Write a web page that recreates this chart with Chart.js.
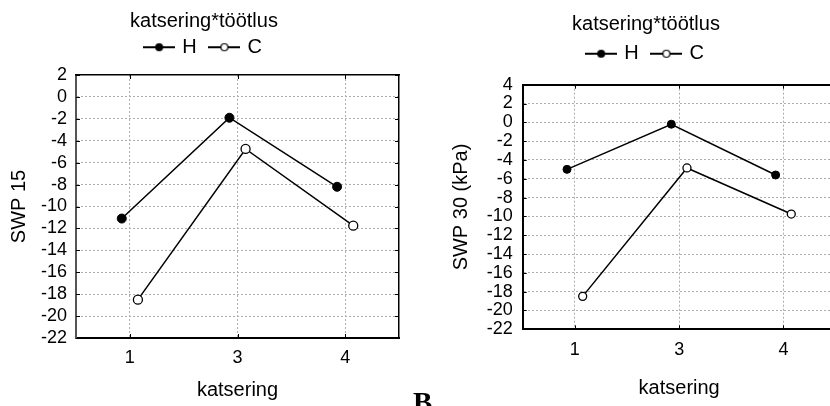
<!DOCTYPE html>
<html>
<head>
<meta charset="utf-8">
<script src="https://cdn.jsdelivr.net/npm/chart.js@4.4.0/dist/chart.umd.min.js"></script>
<style>
  html, body { margin: 0; padding: 0; background: #fff; overflow: hidden; }
  #stage { position: relative; width: 830px; height: 406px; overflow: hidden; background: #fff; }
  #c1 { position: absolute; left: 0; top: 0; }
  #c2 { position: absolute; left: 415px; top: 0; }
  #tag { position: absolute; left: 413px; top: 388px; font: bold 29px/29px "Liberation Serif", "Times New Roman", serif; color: #000; }
</style>
</head>
<body>
<div id="stage">
  <canvas id="c1" width="408" height="406"></canvas>
  <canvas id="c2" width="462" height="406"></canvas>
  <div id="tag">B</div>
</div>
<script>
// katsering x töötlus interaction plots (SWP 15 / SWP 30)

const categories = ['1', '3', '4'];
const seriesNames = ['H', 'C'];
const swp15H = [-11.1, -1.9, -8.2];
const swp15C = [-18.5, -4.75, -11.75];
const swp30H = [-5.0, -0.2, -5.6];
const swp30C = [-18.5, -4.85, -9.75];
const yTicks15 = [-22, -20, -18, -16, -14, -12, -10, -8, -6, -4, -2, 0, 2];
const yTicks30 = [-22, -20, -18, -16, -14, -12, -10, -8, -6, -4, -2, 0, 2, 4];

const FONT = '"Liberation Sans", Arial, sans-serif';
const DODGE = 0.075;
const GRID = '#aeaeae';

// small line+circle icon for the legend
function legendIcon(filled) {
    const c = document.createElement('canvas');
    c.width = 32; c.height = 12;
    const g = c.getContext('2d');
    g.fillStyle = '#000';
    g.fillRect(0, 5, 32, 2);
    g.beginPath();
    if (filled) {
        g.arc(16, 6, 4, 0, Math.PI * 2);
        g.fill();
    } else {
        g.arc(16, 6, 3.5, 0, Math.PI * 2);
        g.fillStyle = '#fff';
        g.fill();
        g.lineWidth = 1.2;
        g.strokeStyle = '#000';
        g.stroke();
    }
    return c;
}

// short tick marks pointing into the plot box
const innerTicks = {
    id: 'innerTicks',
    afterDraw(chart) {
        const { ctx, chartArea: a, scales: { x, y } } = chart;
        ctx.save();
        ctx.strokeStyle = '#000';
        ctx.lineWidth = 1;
        ctx.beginPath();
        y.ticks.forEach(t => {
            const py = Math.round(y.getPixelForValue(t.value)) + 0.5;
            ctx.moveTo(a.left, py); ctx.lineTo(a.left + 4, py);
            ctx.moveTo(a.right, py); ctx.lineTo(a.right - 4, py);
        });
        x.ticks.forEach(t => {
            const px = Math.round(x.getPixelForValue(t.value)) + 0.5;
            ctx.moveTo(px, a.top); ctx.lineTo(px, a.top + 4);
            ctx.moveTo(px, a.bottom); ctx.lineTo(px, a.bottom - 4);
        });
        ctx.stroke();
        ctx.restore();
    }
};

function makeChart(id, valsH, valsC, yTicks, yTitle, lay) {
    const icons = [legendIcon(true), legendIcon(false)];
    const pts = (vals, off) => vals.map((v, i) => ({ x: i + 1 + off, y: v }));

    return new Chart(document.getElementById(id), {
        type: 'line',
        data: {
            datasets: [
                {
                    label: seriesNames[0],
                    data: pts(valsH, -DODGE),
                    borderColor: '#000',
                    borderWidth: 1.5,
                    pointRadius: lay.radius,
                    pointBackgroundColor: '#000',
                    pointBorderColor: '#000',
                    pointBorderWidth: 1
                },
                {
                    label: seriesNames[1],
                    data: pts(valsC, DODGE),
                    borderColor: '#000',
                    borderWidth: 1.5,
                    pointRadius: lay.radius,
                    pointBackgroundColor: '#fff',
                    pointBorderColor: '#000',
                    pointBorderWidth: 1.3
                }
            ]
        },
        options: {
            responsive: false,
            animation: false,
            devicePixelRatio: 1,
            layout: { padding: 0 },
            plugins: {
                tooltip: { enabled: false },
                legend: {
                    position: 'top',
                    align: 'center',
                    title: {
                        display: true,
                        text: 'katsering*töötlus',
                        color: '#000',
                        font: { family: FONT, size: 20 },
                        padding: { top: lay.legTitleTop, bottom: lay.legTitleBottom }
                    },
                    labels: {
                        usePointStyle: true,
                        pointStyleWidth: 26,
                        padding: 14.8,
                        color: '#000',
                        font: { family: FONT, size: 20 },
                        generateLabels: chart => chart.data.datasets.map((ds, i) => ({
                            text: ds.label,
                            pointStyle: icons[i],
                            fillStyle: '#000',
                            strokeStyle: '#000',
                            lineWidth: 0,
                            hidden: false,
                            datasetIndex: i
                        }))
                    }
                }
            },
            scales: {
                x: {
                    type: 'linear',
                    position: 'bottom',
                    min: 0.5,
                    max: categories.length + 0.5,
                    afterBuildTicks: s => { s.ticks = categories.map((c, i) => ({ value: i + 1 })); },
                    afterFit: s => { s.height = lay.xH; },
                    ticks: {
                        autoSkip: false,
                        maxRotation: 0,
                        padding: lay.xTickPad,
                        color: '#000',
                        font: { family: FONT, size: 18 },
                        callback: (v, i) => categories[i]
                    },
                    grid: { color: GRID, lineWidth: 1, drawTicks: false },
                    border: { display: true, color: '#000', width: 2, dash: [2, 2] },
                    title: {
                        display: true,
                        text: 'katsering',
                        color: '#000',
                        font: { family: FONT, size: 20 },
                        padding: { top: 0, bottom: lay.xTitleBottom }
                    }
                },
                y: {
                    type: 'linear',
                    position: 'left',
                    min: yTicks[0],
                    max: yTicks[yTicks.length - 1],
                    afterBuildTicks: s => { s.ticks = yTicks.map(v => ({ value: v })); },
                    afterFit: s => { s.width = lay.yW; },
                    ticks: {
                        autoSkip: false,
                        padding: lay.yTickPad,
                        color: '#000',
                        font: { family: FONT, size: 18 },
                        callback: v => String(v)
                    },
                    grid: { color: GRID, lineWidth: 1, drawTicks: false },
                    border: { display: true, color: lay.leftColor, width: 2, dash: [2, 2] },
                    title: {
                        display: true,
                        text: yTitle,
                        color: '#000',
                        font: { family: FONT, size: 20 },
                        padding: { top: lay.yTitleTop, bottom: 0 }
                    }
                },
                xTop: {
                    type: 'linear',
                    position: 'top',
                    ticks: { display: false },
                    grid: { display: false, drawTicks: false },
                    border: { display: true, color: '#000', width: lay.topW },
                    afterFit: s => { s.height = lay.spacer; }
                },
                yRight: {
                    type: 'linear',
                    position: 'right',
                    ticks: { display: false },
                    grid: { display: false, drawTicks: false },
                    border: { display: true, color: '#000', width: 1.5 },
                    afterFit: s => { s.width = lay.y2W; }
                }
            }
        },
        plugins: [innerTicks]
    });
}

makeChart('c1', swp15H, swp15C, yTicks15, 'SWP 15', {
    radius: 4.5, legTitleTop: 11.1, legTitleBottom: -12.7, spacer: 7.8,
    xH: 68, xTickPad: 9, xTitleBottom: 3.3, yW: 76, yTickPad: 9, yTitleTop: 7,
    y2W: 9, topW: 1.5, leftColor: '#555'
});

makeChart('c2', swp30H, swp30C, yTicks30, 'SWP 30 (kPa)', {
    radius: 4, legTitleTop: 14.7, legTitleBottom: -9.8, spacer: 11,
    xH: 76.7, xTickPad: 9.6, xTitleBottom: 5.7, yW: 107.7, yTickPad: 10, yTitleTop: 34.7,
    y2W: 41.4, topW: 2, leftColor: '#000'
});
</script>
</body>
</html>
